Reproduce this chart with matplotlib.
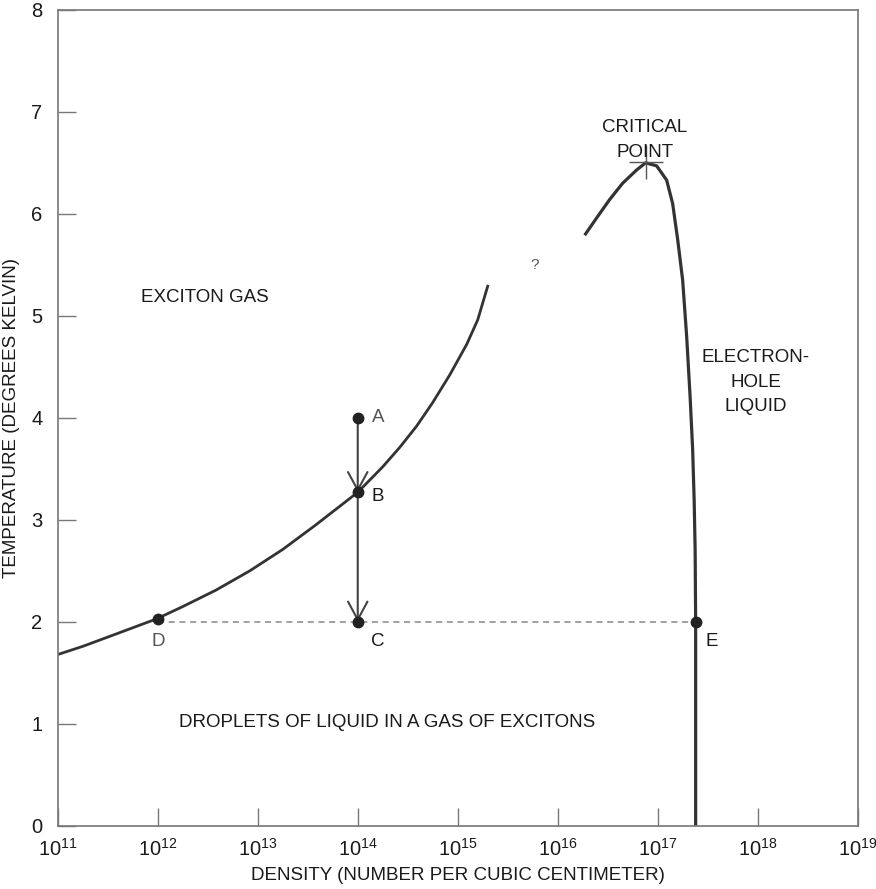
import numpy as np
import matplotlib.pyplot as plt

plt.rcParams['font.family'] = ['Liberation Sans', 'DejaVu Sans']

# exciton gas boundary: log10 density, temperature (K)
gas_logn = [11.0, 11.25, 11.58, 11.99, 12.25, 12.58, 12.92, 13.25, 13.58, 14.0,
            14.25, 14.42, 14.59, 14.75, 14.92, 15.09, 15.20, 15.30]
gas_T = [1.68, 1.76, 1.88, 2.03, 2.15, 2.31, 2.50, 2.71, 2.95, 3.27,
         3.52, 3.71, 3.92, 4.15, 4.42, 4.72, 4.96, 5.29]

# electron-hole liquid boundary
liq_logn = [16.27, 16.39, 16.52, 16.65, 16.79, 16.88, 16.99, 17.09, 17.15, 17.20,
            17.25, 17.29, 17.325, 17.35, 17.365, 17.375, 17.38, 17.38]
liq_T = [5.79, 5.96, 6.14, 6.30, 6.43, 6.50, 6.47, 6.33, 6.10, 5.75,
         5.35, 4.80, 4.20, 3.69, 3.20, 2.70, 2.00, 0.0]

crit_logn, crit_T = 16.88, 6.51

pts = {'A': (14.0, 4.0), 'B': (14.0, 3.27), 'C': (14.0, 2.0),
       'D': (12.0, 2.03), 'E': (17.38, 2.0)}

xticks = [10.0**k for k in range(11, 20)]
xlabels = [r'$\mathregular{10^{%d}}$' % k for k in range(11, 20)]

dark = '#333333'
axcol = '#777777'
tc = '#1a1a1a'
fs = 13.5

fig = plt.figure(figsize=(8.76, 8.89), dpi=100)
ax = fig.add_axes([0.066, 0.071, 0.913, 0.918])

ax.plot(10.0**np.array(gas_logn), gas_T, color=dark, lw=2, solid_joinstyle='round')
ax.plot(10.0**np.array(liq_logn), liq_T, color=dark, lw=2.3, solid_capstyle='butt',
        solid_joinstyle='round')
ax.plot([10**crit_logn], [crit_T], marker='+', ms=24, mew=1, color='#555555')

# dashed tie line at 2 K
ax.plot([10**pts['D'][0], 10**pts['E'][0]], [2.0, 2.0], ls=(0, (4, 3)), color='#888888', lw=1.1)

# cooling path A -> B -> C
arrow = dict(arrowstyle='->,head_length=1.3,head_width=0.7', color='#444444', lw=1.5,
             shrinkA=0, shrinkB=0)
for a, b in [('A', 'B'), ('B', 'C')]:
    ax.annotate('', xy=(10**pts[b][0], pts[b][1]), xytext=(10**pts[a][0], pts[a][1]),
                arrowprops=arrow)

for k, (n, T) in pts.items():
    ax.plot([10**n], [T], 'o', color='#222222', ms=7.5, zorder=5)

ax.text(10**14.14, 4.0, 'A', fontsize=fs, color='#555555', ha='left', va='center')
ax.text(10**14.14, 3.23, 'B', fontsize=fs, color=tc, ha='left', va='center')
ax.text(10**14.2, 1.81, 'C', fontsize=fs, color=tc, ha='center', va='center')
ax.text(10**12.0, 1.81, 'D', fontsize=fs, color='#555555', ha='center', va='center')
ax.text(10**17.54, 1.81, 'E', fontsize=fs, color=tc, ha='center', va='center')

ax.text(10**12.47, 5.18, 'EXCITON GAS', fontsize=fs, color=tc, ha='center', va='center')
ax.text(10**15.77, 5.5, '?', fontsize=11, color='#555555', ha='center', va='center')
ax.text(10**16.87, 6.72, 'CRITICAL\nPOINT', fontsize=fs, color=tc, ha='center', va='center',
        linespacing=1.6)
ax.text(10**17.98, 4.35, 'ELECTRON-\nHOLE\nLIQUID', fontsize=fs, color=tc, ha='center',
        va='center', linespacing=1.6)
ax.text(10**14.29, 1.01, 'DROPLETS OF LIQUID IN A GAS OF EXCITONS', fontsize=fs, color=tc,
        ha='center', va='center')

ax.set_xscale('log')
ax.set_xlim(1e11, 1e19)
ax.set_ylim(0, 8)
ax.set_xticks(xticks)
ax.set_xticklabels(xlabels)
ax.minorticks_off()
ax.set_yticks(range(0, 9))
ax.tick_params(direction='in', length=13, width=1, color=axcol, labelsize=14.5,
               labelcolor=tc, pad=9)
ax.tick_params(axis='y', pad=11)
for s in ax.spines.values():
    s.set_color(axcol)
    s.set_linewidth(1.2)

ax.set_xlabel('DENSITY (NUMBER PER CUBIC CENTIMETER)', fontsize=fs, color=tc, labelpad=5)
ax.set_ylabel('TEMPERATURE (DEGREES KELVIN)', fontsize=fs, color=tc, labelpad=8)

fig.savefig('out.png', dpi=100)
